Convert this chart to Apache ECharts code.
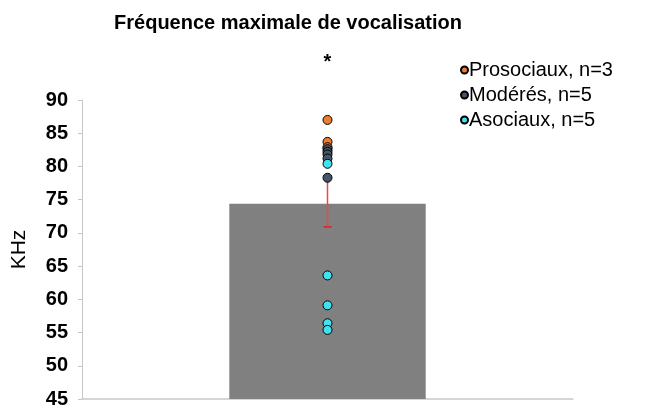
<!DOCTYPE html>
<html>
<head>
<meta charset="utf-8">
<script src="https://cdn.jsdelivr.net/npm/echarts@6/dist/echarts.min.js"></script>
<style>
  html, body { margin: 0; padding: 0; background: #fff; }
  #chart { width: 651px; height: 409px; }
</style>
</head>
<body>
<div id="chart"></div>
<script>
// data
const categories = ['']
const meanValue = [74.4]
const sdValue = [3.5]
const prosociaux = [87.0, 83.7, 82.9]
const moderes = [82.6, 82.2, 81.8, 81.2, 78.3]
const asociaux = [80.4, 63.6, 59.1, 56.4, 55.4]
const groupNames = ['Prosociaux, n=3', 'Modérés, n=5', 'Asociaux, n=5']
const groupColors = ['#ED7D31', '#44546A', '#3FE3F0']

const chart = echarts.init(document.getElementById('chart'))

function dots(name, values, color) {
  return {
    name: name,
    type: 'scatter',
    data: values.map(v => [0, v]),
    symbol: 'circle',
    symbolSize: 9,
    itemStyle: { color: color, borderColor: '#000', borderWidth: 1, opacity: 1 },
    z: 5,
  }
}

chart.setOption({
  animation: false,
  title: {
    text: 'Fréquence maximale de vocalisation',
    left: 283,
    textAlign: 'center',
    top: 8,
    textStyle: { fontFamily: 'Liberation Sans', fontSize: 20, fontWeight: 'bold', color: '#000' },
  },
  legend: {
    orient: 'vertical',
    left: 455,
    top: 55,
    itemWidth: 7,
    itemHeight: 7,
    itemGap: 5,
    icon: 'circle',
    data: groupNames,
    textStyle: { fontFamily: 'Liberation Sans', fontSize: 20, lineHeight: 20, color: '#000', padding: [0, 0, 0, -4] },
  },
  grid: { left: 82, right: 78, top: 100, bottom: 7 },
  xAxis: {
    type: 'category',
    data: categories,
    axisLine: { lineStyle: { color: '#c8c8c8', width: 1.5 } },
    axisTick: { show: false },
    axisLabel: { show: false },
  },
  yAxis: {
    type: 'value',
    min: 45,
    max: 90,
    interval: 5,
    name: 'KHz',
    nameLocation: 'middle',
    nameGap: 52,
    nameTextStyle: { fontFamily: 'Liberation Sans', fontSize: 21, color: '#000' },
    axisLine: { show: true, lineStyle: { color: '#c8c8c8' } },
    axisTick: { show: true, inside: false, length: 4, lineStyle: { color: '#c8c8c8' } },
    splitLine: { show: false },
    axisLabel: { fontFamily: 'Liberation Sans', fontSize: 20, fontWeight: 'bold', color: '#000', margin: 14 },
  },
  series: [
    {
      type: 'bar',
      data: meanValue,
      barWidth: '40%',
      itemStyle: { color: '#808080' },
      z: 1,
    },
    {
      type: 'custom',
      data: meanValue.map((m, i) => [i, m - sdValue[i], m + sdValue[i]]),
      renderItem: function (params, api) {
        const lo = api.coord([api.value(0), api.value(1)])
        const hi = api.coord([api.value(0), api.value(2)])
        return {
          type: 'group',
          children: [
            { type: 'line', shape: { x1: lo[0], y1: lo[1], x2: hi[0], y2: hi[1] }, style: { stroke: '#FF4040', lineWidth: 1.5 } },
            { type: 'line', shape: { x1: lo[0] - 4, y1: lo[1], x2: lo[0] + 4, y2: lo[1] }, style: { stroke: '#E02020', lineWidth: 1.5 } },
          ],
        }
      },
      z: 3,
    },
    dots(groupNames[0], prosociaux, groupColors[0]),
    dots(groupNames[1], moderes, groupColors[1]),
    dots(groupNames[2], asociaux, groupColors[2]),
  ],
})

// significance star above the column
const starPos = chart.convertToPixel({ seriesIndex: 0 }, [0, 90])
chart.setOption({
  graphic: [{
    type: 'text',
    x: starPos[0],
    y: 62,
    style: { text: '*', font: 'bold 20px "Liberation Sans"', fill: '#000', textAlign: 'center', textVerticalAlign: 'middle' },
  }],
})
</script>
</body>
</html>
